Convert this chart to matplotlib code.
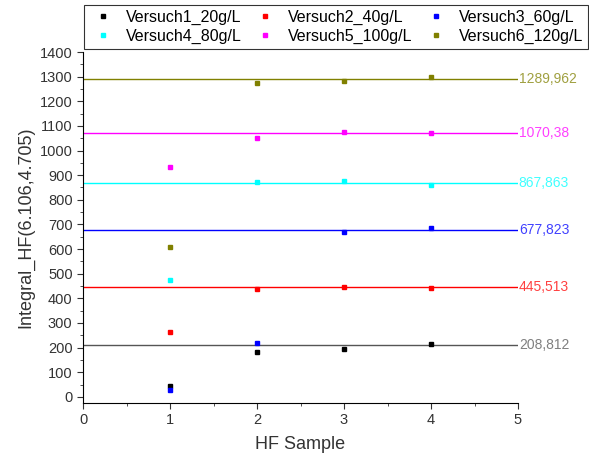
import matplotlib
matplotlib.use("Agg")
import matplotlib.pyplot as plt
from matplotlib.ticker import MultipleLocator

plt.rcParams['font.family'] = ['Liberation Sans', 'DejaVu Sans']

samples = [1, 2, 3, 4]
names = ["Versuch1_20g/L", "Versuch2_40g/L", "Versuch3_60g/L",
         "Versuch4_80g/L", "Versuch5_100g/L", "Versuch6_120g/L"]
colors = ["#000000", "#FF0000", "#0000FF", "#00FFFF", "#FF00FF", "#808000"]
line_colors = ["#555555", "#FF0000", "#0000FF", "#00FFFF", "#FF00FF", "#808000"]

v1 = [42, 184, 196, 216]
v2 = [262, 438, 445, 441]
v3 = [27, 219, 668, 687]
v4 = [476, 872, 875, 860]
v5 = [933, 1052, 1074, 1070]
v6 = [610, 1273, 1282, 1300]
series = [v1, v2, v3, v4, v5, v6]

levels = [208.812, 445.513, 677.823, 867.863, 1070.38, 1289.962]
level_labels = ["208,812", "445,513", "677,823", "867,863", "1070,38", "1289,962"]

fig = plt.figure(figsize=(5.89, 4.58), dpi=100)
ax = fig.add_axes([83 / 589, 1 - 403 / 458, 435 / 589, 351 / 458])

for lv, lab, c in zip(levels, level_labels, line_colors):
    ax.plot([0, 5], [lv, lv], color=c, lw=1, zorder=1)
    ax.text(5.01, lv, lab, color=c, alpha=0.75, fontsize=10,
            va="center", ha="left", clip_on=False)

handles = []
for vals, name, c in zip(series, names, colors):
    h, = ax.plot(samples, vals, ls="none", marker="s", ms=3.2,
                 color=c, label=name, zorder=3)
    handles.append(h)

ax.set_xlim(0, 5)
ax.set_ylim(-25, 1400)
ax.xaxis.set_major_locator(MultipleLocator(1))
ax.xaxis.set_minor_locator(MultipleLocator(0.5))
ax.yaxis.set_minor_locator(MultipleLocator(50))
ax.set_yticks(range(0, 1401, 100))
ax.tick_params(which="both", direction="out", labelsize=10.5, color="#333333",
               labelcolor="#333333")
ax.tick_params(which="major", length=4)
ax.tick_params(which="minor", length=2.5)
ax.spines["top"].set_visible(False)
ax.spines["right"].set_visible(False)
ax.set_xlabel("HF Sample", fontsize=13, color="#333333", labelpad=6)
ax.set_ylabel("Integral_HF(6.106,4.705)", fontsize=13, color="#333333", labelpad=4)

order = [0, 3, 1, 4, 2, 5]
leg = fig.legend([handles[i] for i in order], [names[i] for i in order],
                 loc="upper left", bbox_to_anchor=(84 / 589, 1 - 5 / 458),
                 ncol=3, fontsize=11.5, frameon=True, fancybox=False,
                 handlelength=1.8, handletextpad=0.5, columnspacing=0.6,
                 borderaxespad=0, labelspacing=0.25, borderpad=0.3,
                 markerscale=0.9)
leg.get_frame().set_edgecolor("black")
leg.get_frame().set_linewidth(0.8)

fig.savefig("out.png", dpi=100)
